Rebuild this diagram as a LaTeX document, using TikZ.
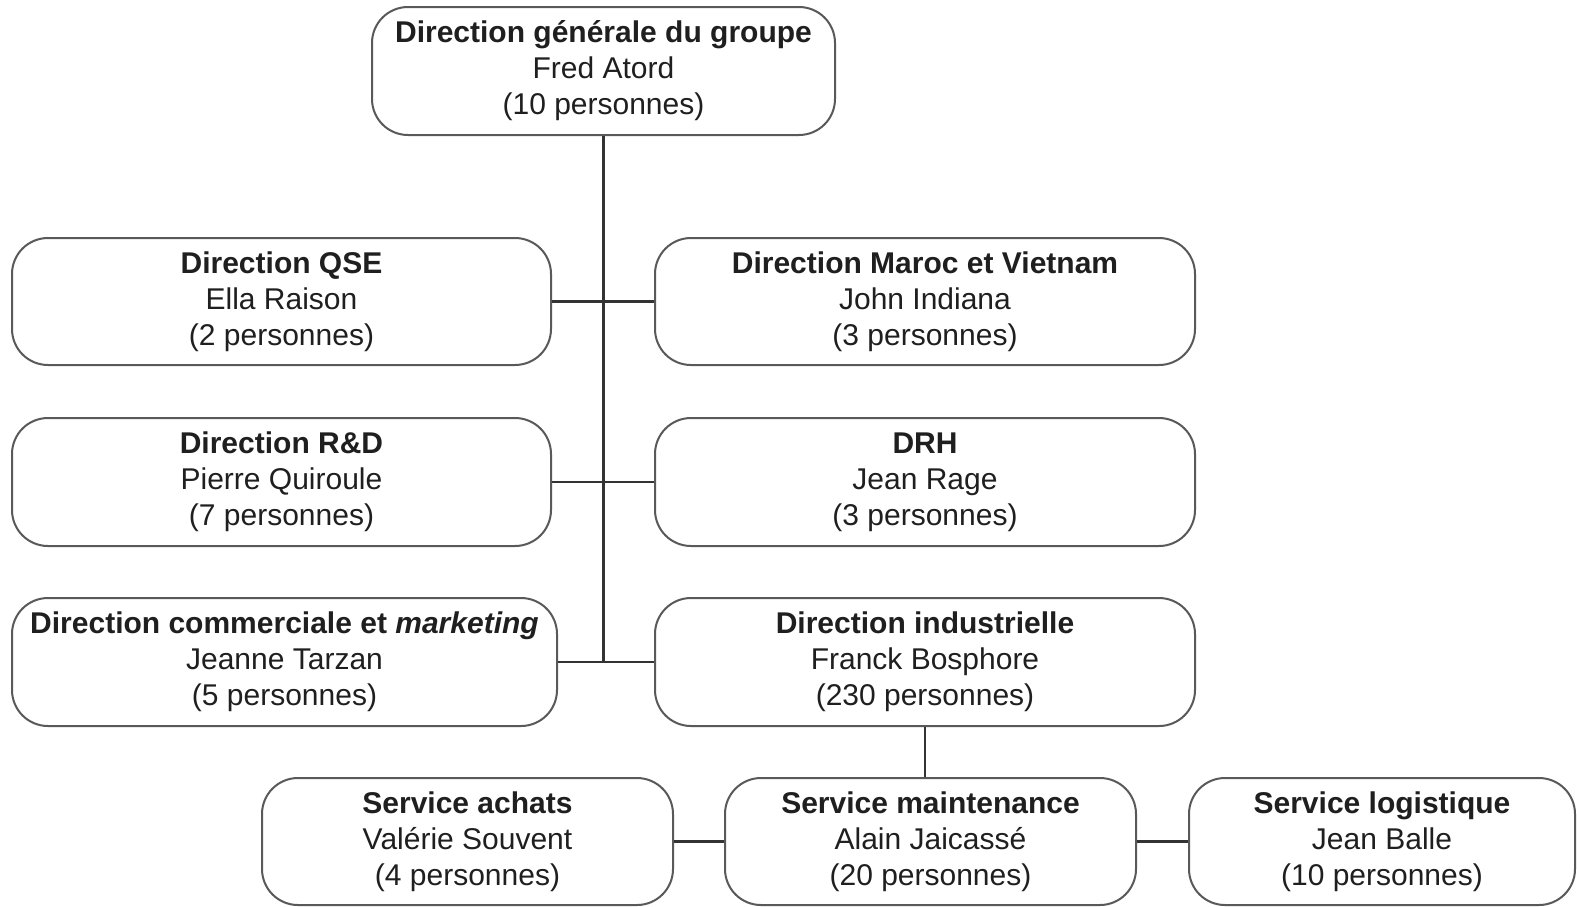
\documentclass[tikz,border=0pt]{standalone}
\usepackage{fontspec}
\setmainfont{Liberation Sans}
\begin{document}
\begin{tikzpicture}[x=1pt,y=-1pt,
  unit/.style={draw=black!65, line width=2pt, rounded corners=36pt, fill=white,
    align=center, inner sep=0pt, text=black!88,
    font=\fontsize{30}{36}\selectfont},
  link/.style={draw=black!80, line width=2.5pt}]
\useasboundingbox (0,0) rectangle (1577,906);
\node[unit, minimum width=463pt, minimum height=128pt] (top) at (603.5,71)
  {\textbf{Direction générale du groupe}\\Fred Atord\\(10 personnes)};
\node[unit, minimum width=539pt, minimum height=127pt] (qse) at (281.5,301.5)
  {\textbf{Direction QSE}\\Ella Raison\\(2 personnes)};
\node[unit, minimum width=540pt, minimum height=127pt] (maroc) at (925,301.5)
  {\textbf{Direction Maroc et Vietnam}\\John Indiana\\(3 personnes)};
\node[unit, minimum width=539pt, minimum height=128pt] (rd) at (281.5,482)
  {\textbf{Direction R\&D}\\Pierre Quiroule\\(7 personnes)};
\node[unit, minimum width=540pt, minimum height=128pt] (drh) at (925,482)
  {\textbf{DRH}\\Jean Rage\\(3 personnes)};
\node[unit, minimum width=545pt, minimum height=128pt] (com) at (284.5,662)
  {\textbf{Direction commerciale et \textit{marketing}}\\Jeanne Tarzan\\(5 personnes)};
\node[unit, minimum width=540pt, minimum height=128pt] (ind) at (925,662)
  {\textbf{Direction industrielle}\\Franck Bosphore\\(230 personnes)};
\node[unit, minimum width=411pt, minimum height=127pt] (achats) at (467.5,841.5)
  {\textbf{Service achats}\\Valérie Souvent\\(4 personnes)};
\node[unit, minimum width=411pt, minimum height=127pt] (maint) at (930.5,841.5)
  {\textbf{Service maintenance}\\Alain Jaicassé\\(20 personnes)};
\node[unit, minimum width=386pt, minimum height=127pt] (logi) at (1382,841.5)
  {\textbf{Service logistique}\\Jean Balle\\(10 personnes)};
\coordinate (spine) at (top.south |- com.east);
\coordinate (drop) at (ind.south -| 924,0);
\draw[link] (top.south) -- (spine);
\draw[link] (qse) -- (maroc);
\draw[link] (rd) -- (drh);
\draw[link] (com) -- (ind);
\draw[link] (ind.south) -- (ind.south |- maint.north);
\draw[link] (achats) -- (maint);
\draw[link] (maint) -- (logi);
\end{tikzpicture}
\end{document}
